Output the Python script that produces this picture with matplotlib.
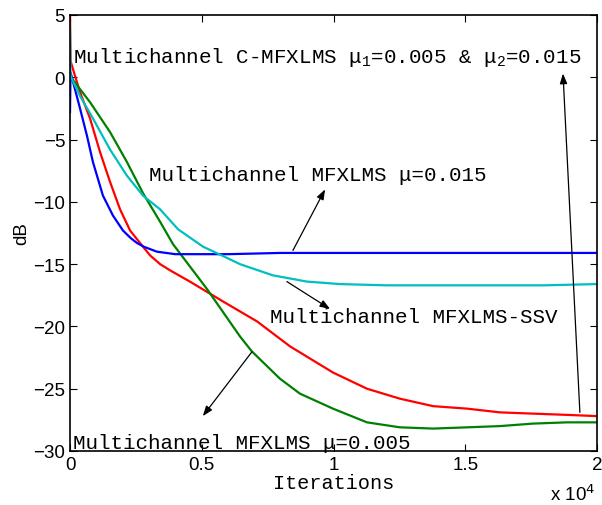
import numpy as np
import matplotlib
matplotlib.use('Agg')
import matplotlib.pyplot as plt

plt.rcParams['font.family'] = ['Liberation Sans', 'DejaVu Sans']
plt.rcParams['mathtext.fontset'] = 'custom'
plt.rcParams['mathtext.rm'] = 'Liberation Mono'
plt.rcParams['mathtext.it'] = 'Liberation Mono'

# values (iterations, dB)
blue_x = [0, 20, 380, 645, 870, 1250, 1630, 2010, 2300, 2540, 2800, 3300, 4000, 6000, 8000, 10000, 12000, 14000, 16000, 18000, 20000]
blue_y = [-2.8, 0.4, -2.5, -4.7, -6.8, -9.5, -11.1, -12.3, -12.9, -13.3, -13.6, -14.0, -14.2, -14.2, -14.1, -14.1, -14.1, -14.1, -14.1, -14.1, -14.1]

red_x = [0, 20, 380, 760, 1140, 1520, 1900, 2280, 2770, 3040, 3420, 3800, 4550, 5810, 7100, 8350, 9980, 11270, 12520, 13780, 15070, 16320, 17570, 18860, 20000]
red_y = [5.0, 1.3, -1.2, -3.3, -6.0, -8.4, -10.6, -12.3, -13.6, -14.3, -15.0, -15.5, -16.4, -18.0, -19.6, -21.6, -23.7, -25.0, -25.8, -26.4, -26.6, -26.9, -27.0, -27.1, -27.2]

green_x = [0, 760, 1520, 2160, 2770, 3420, 3910, 5200, 6450, 6900, 7970, 8730, 9980, 11270, 12520, 13780, 15070, 16320, 17570, 18860, 20000]
green_y = [0.1, -2.0, -4.4, -6.8, -9.3, -11.6, -13.4, -17.0, -20.8, -22.0, -24.2, -25.4, -26.6, -27.7, -28.1, -28.2, -28.1, -28.0, -27.8, -27.7, -27.7]

cyan_x = [0, 20, 380, 870, 1520, 2160, 2770, 3420, 4100, 5050, 5960, 6450, 7700, 8990, 10250, 12000, 14000, 16000, 18000, 20000]
cyan_y = [3.9, 0.1, -1.5, -3.3, -5.8, -7.9, -9.5, -10.6, -12.2, -13.6, -14.5, -15.0, -15.9, -16.4, -16.6, -16.7, -16.7, -16.7, -16.7, -16.6]

xtick_vals = [0, 5000, 10000, 15000, 20000]
xtick_labels = ['0', '0.5', '1', '1.5', '2']
ytick_vals = [5, 0, -5, -10, -15, -20, -25, -30]

fig = plt.figure(figsize=(6.02, 5.06), dpi=100)
ax = fig.add_axes([70/602, 1-452/506, 527/602, 436/506])

ax.plot(red_x, red_y, color='#ff0000', lw=1.6)
ax.plot(green_x, green_y, color='#008000', lw=1.6)
ax.plot(blue_x, blue_y, color='#0000ff', lw=1.6)
ax.plot(cyan_x, cyan_y, color='#00bfbf', lw=1.6)

ax.set_xlim(0, 20000)
ax.set_ylim(-30, 5)
ax.set_xticks(xtick_vals)
ax.set_xticklabels(xtick_labels)
ax.set_yticks(ytick_vals)
ax.set_yticklabels([str(v).replace('-', '\u2212') for v in ytick_vals])
ax.tick_params(direction='in', top=True, right=True, labelsize=13.5, length=5, width=0.8)
for s in ax.spines.values():
    s.set_linewidth(1.2)

ax.set_xlabel('Iterations', family='Liberation Mono', fontsize=14.5, labelpad=0)
ax.set_ylabel('dB', fontsize=13.5, labelpad=2)
fig.text(595/602, 1-495/506, 'x 10$^{\\mathsf{4}}$', ha='right', va='center', fontsize=13.5, family='Liberation Sans')

mono = dict(family='Liberation Mono', fontsize=15)
arr = dict(arrowstyle='-|>,head_length=0.6,head_width=0.22', color='black', lw=0.9, shrinkA=0, shrinkB=0)

ax.text(100, 1.7, 'Multichannel C-MFXLMS \u03bc$_1$=0.005 & \u03bc$_2$=0.015', va='center', ha='left', **mono)
ax.annotate('', xy=(18710, 0.3), xytext=(19350, -26.9), arrowprops=arr)

ax.text(3000, -7.8, 'Multichannel MFXLMS \u03bc=0.015', va='center', ha='left', **mono)
ax.annotate('', xy=(9680, -9.0), xytext=(8460, -13.9), arrowprops=arr)

ax.text(7590, -19.2, 'Multichannel MFXLMS-SSV', va='center', ha='left', **mono)
ax.annotate('', xy=(9870, -18.6), xytext=(8230, -16.4), arrowprops=arr)

ax.text(100, -29.3, 'Multichannel MFXLMS \u03bc=0.005', va='center', ha='left', **mono)
ax.annotate('', xy=(5040, -27.2), xytext=(6900, -22.05), arrowprops=arr)

fig.savefig('out.png', dpi=100)
